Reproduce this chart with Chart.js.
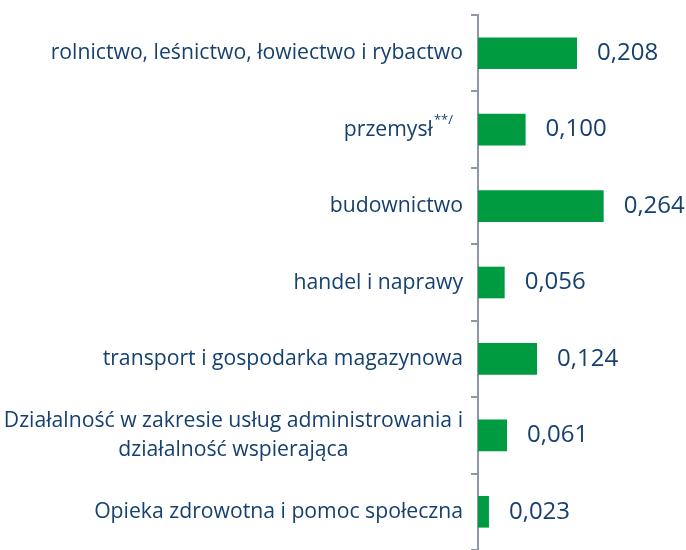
<!DOCTYPE html>
<html>
<head>
<meta charset="utf-8">
<script src="https://cdn.jsdelivr.net/npm/chart.js@4.4.1/dist/chart.umd.min.js"></script>
<style>
html,body{margin:0;padding:0;background:#fff;overflow:hidden;}
#wrap{width:686px;height:550px;position:relative;}
</style>
</head>
<body>
<div id="wrap"><canvas id="c" width="686" height="550"></canvas></div>
<script>
const categories = [
  "rolnictwo, leśnictwo, łowiectwo i rybactwo",
  "przemysł",
  "budownictwo",
  "handel i naprawy",
  "transport i gospodarka magazynowa",
  ["Działalność w zakresie usług administrowania i", "działalność wspierająca"],
  "Opieka zdrowotna i pomoc społeczna"
];
const superscripts = ["", "**/", "", "", "", "", ""];
const values = [0.208, 0.100, 0.264, 0.056, 0.124, 0.061, 0.023];
const valueLabels = ["0,208", "0,100", "0,264", "0,056", "0,124", "0,061", "0,023"];

const TEXT_COLOR = '#15406f';
const LABEL_FONT = '21.2px "Open Sans"';
const VALUE_FONT = '24px "Open Sans"';

const labelPlugin = {
  id: 'labelPlugin',
  afterDraw(chart) {
    const ctx = chart.ctx;
    const yScale = chart.scales.y;
    const meta = chart.getDatasetMeta(0);
    const rightEdge = chart.chartArea.left - 15;
    ctx.save();
    ctx.fillStyle = TEXT_COLOR;
    ctx.textBaseline = 'middle';
    categories.forEach((lab, i) => {
      const y = yScale.getPixelForValue(i);
      ctx.font = LABEL_FONT;
      if (Array.isArray(lab)) {
        const w0 = ctx.measureText(lab[0]).width;
        const cx = rightEdge - w0 / 2;
        ctx.textAlign = 'center';
        const lh = 29;
        lab.forEach((line, k) => {
          ctx.fillText(line, cx, y + (k - (lab.length - 1) / 2) * lh);
        });
      } else if (superscripts[i]) {
        ctx.font = '13px "Open Sans"';
        const sw = ctx.measureText(superscripts[i]).width;
        const supRight = rightEdge - 10;
        ctx.textAlign = 'right';
        ctx.fillText(superscripts[i], supRight, y - 9);
        ctx.font = LABEL_FONT;
        ctx.fillText(lab, supRight - sw - 1, y);
      } else {
        ctx.textAlign = 'right';
        ctx.fillText(lab, rightEdge, y);
      }
      const bar = meta.data[i];
      ctx.font = VALUE_FONT;
      ctx.textAlign = 'left';
      ctx.fillText(valueLabels[i], bar.x + 20, bar.y);
    });
    ctx.restore();
  }
};

new Chart(document.getElementById('c'), {
  type: 'bar',
  data: {
    labels: categories,
    datasets: [{
      data: values,
      backgroundColor: '#009a40',
      borderWidth: 0,
      barPercentage: 0.414,
      categoryPercentage: 1.0
    }]
  },
  options: {
    indexAxis: 'y',
    responsive: false,
    animation: false,
    devicePixelRatio: 1,
    layout: { padding: { top: 15, bottom: -6, left: 0, right: 0 } },
    plugins: { legend: { display: false }, tooltip: { enabled: false } },
    scales: {
      x: { display: false, min: 0, max: 0.437 },
      y: {
        afterFit(scale) { scale.width = 478; },
        ticks: { display: false },
        grid: {
          display: true,
          drawOnChartArea: false,
          drawTicks: true,
          tickLength: 7,
          color: '#9196a6',
          lineWidth: 2,
          offset: true
        },
        border: { display: true, color: '#9196a6', width: 2 }
      }
    }
  },
  plugins: [labelPlugin]
});
</script>
</body>
</html>
